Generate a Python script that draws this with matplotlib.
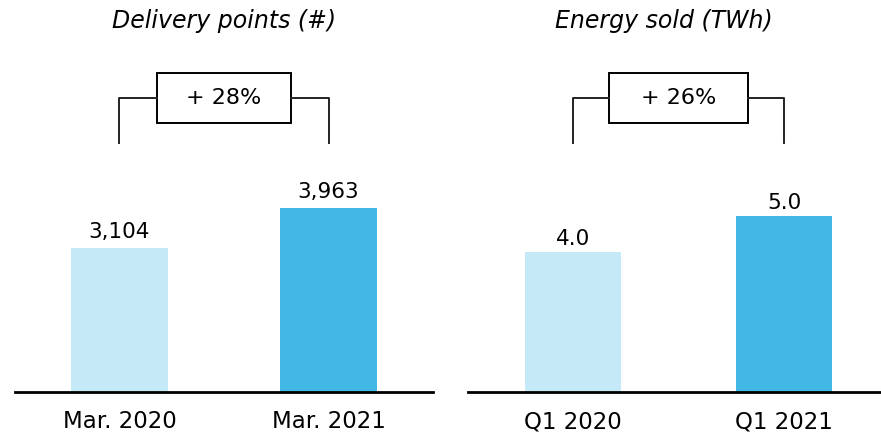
import matplotlib.pyplot as plt
import matplotlib.transforms as mtransforms
from matplotlib.patches import Rectangle

plt.rcParams['font.family'] = 'DejaVu Sans'

# data
titles = ["Delivery points (#)", "Energy sold (TWh)"]
categories = [["Mar. 2020", "Mar. 2021"], ["Q1 2020", "Q1 2021"]]
values = [[3104, 3963], [3.97, 5.0]]
value_labels = [["3,104", "3,963"], ["4.0", "5.0"]]
growth = ["+ 28%", "+ 26%"]

light = '#C6E9F7'
dark = '#42B9E4'

fig = plt.figure(figsize=(8.81, 4.37), dpi=100)

# axes placement (figure fractions) and per-panel tweaks
positions = [[0.017, 0.103, 0.4745, 0.897], [0.531, 0.103, 0.469, 0.897]]
xlims = [(-0.5, 1.5), (-0.5, 1.46)]
ylims = [8443, 11.14]
title_x = [0.5, 0.43]
label_pad = [10, 7]
widths = [0.46, 0.455]
box_half = [0.32, 0.33]

for i in range(2):
    ax = fig.add_axes(positions[i])
    x = [0, 1]
    ax.bar(x, values[i], width=widths[i], color=[light, dark], zorder=2)
    ax.set_xlim(*xlims[i])
    ax.set_ylim(0, ylims[i])

    for sp in ['top', 'left', 'right']:
        ax.spines[sp].set_visible(False)
    ax.spines['bottom'].set_linewidth(2)
    ax.spines['bottom'].set_zorder(3)
    ax.set_yticks([])
    ax.set_xticks(x)
    ax.set_xticklabels(categories[i], fontsize=16.5)
    ax.tick_params(axis='x', length=0, pad=13)

    # value labels above bars
    for xi, v, lab in zip(x, values[i], value_labels[i]):
        ax.annotate(lab, (xi, v), xytext=(0, label_pad[i]), textcoords='offset pixels',
                    ha='center', va='baseline', fontsize=15.5)

    # growth bracket (x in data, y in axes fraction)
    tr = mtransforms.blended_transform_factory(ax.transData, ax.transAxes)
    mid = (x[0] + x[1]) / 2
    y_top, y_bot = 0.75, 0.635
    bh = box_half[i]
    ax.plot([x[0], x[0], mid - bh], [y_bot, y_top, y_top], color='#222222', lw=1.4,
            transform=tr, clip_on=False)
    ax.plot([mid + bh, x[1], x[1]], [y_top, y_top, y_bot], color='#222222', lw=1.4,
            transform=tr, clip_on=False)
    ax.add_patch(Rectangle((mid - bh, 0.686), 2 * bh, 0.128, transform=tr,
                           facecolor='white', edgecolor='black', lw=1.4, clip_on=False))
    ax.text(mid, 0.75, growth[i], transform=tr, ha='center', va='center', fontsize=16)

    # panel title
    ax.text(title_x[i], 0.947, titles[i], transform=tr, ha='center', va='center',
            fontsize=17, style='italic')

fig.savefig('out.png', dpi=100)
